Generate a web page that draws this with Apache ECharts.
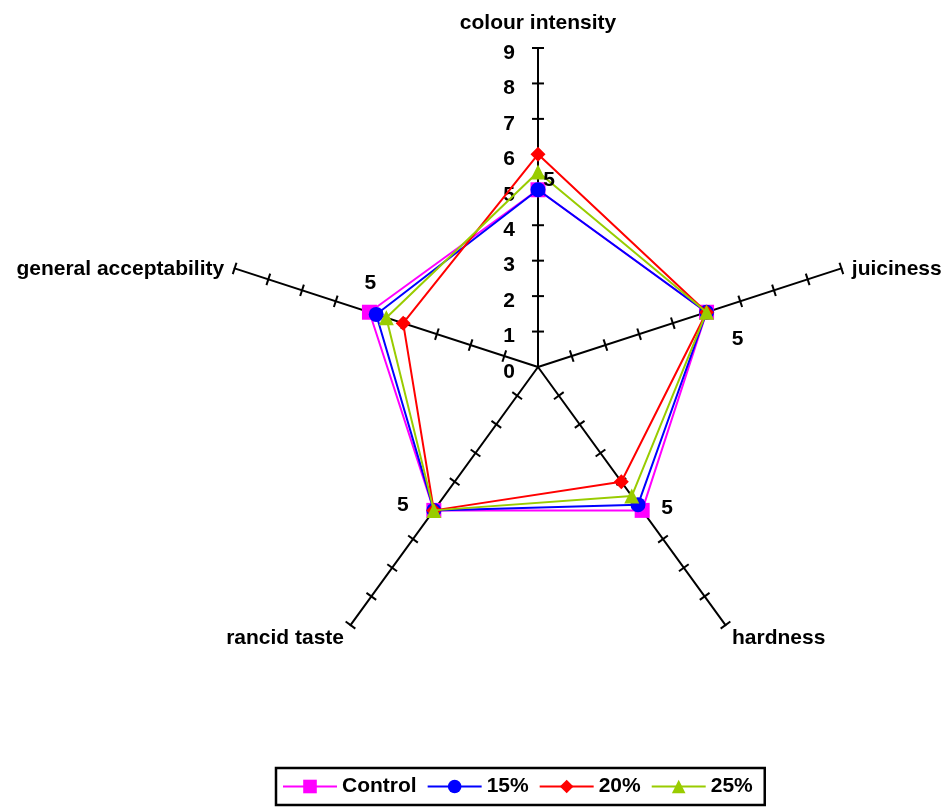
<!DOCTYPE html>
<html>
<head>
<meta charset="utf-8">
<script src="https://cdn.jsdelivr.net/npm/echarts@6/dist/echarts.min.js"></script>
<style>
  html, body { margin: 0; padding: 0; background: #fff; }
  #chart { width: 949px; height: 808px; }
</style>
</head>
<body>
<div id="chart"></div>
<script>
// Sensory attributes (clockwise from the top) and panel scores
const attributes = ['colour intensity', 'juiciness', 'hardness', 'rancid taste', 'general acceptability'];
const control = [5, 5, 5, 5, 5];
const pct15 = [5, 5, 4.8, 5, 4.8];
const pct20 = [6, 5, 4, 5, 4];
const pct25 = [5.5, 5, 4.5, 5, 4.5];
const seriesNames = ['Control', '15%', '20%', '25%'];
const tickValues = [1, 2, 3, 4, 5, 6, 7, 8, 9];
const scaleMax = 9;

const FONT = '"Liberation Sans", Arial, sans-serif';
const CENTER = [538, 367];
const RADIUS = 319;

// ECharts lays radar indicators out counter-clockwise; reorder to get a clockwise reading
const order = [0, 4, 3, 2, 1];
const reorder = arr => order.map(i => arr[i]);

// Only the top spoke carries the scale numbers; side names sit a little lower
const indicators = reorder(attributes).map((name, i) => {
  const ind = { name: name, min: 0, max: scaleMax };
  if (i === 0) {
    ind.nameGap = 14;
  } else {
    ind.axisLabel = { show: false };
    ind.nameTextStyle = { verticalAlign: 'top', lineHeight: 8 };
  }
  return ind;
});

const colors = ['#ff00ff', '#0000ff', '#ff0000', '#99cc00'];
const symbols = ['rect', 'circle', 'diamond', 'triangle'];
const values = [control, pct15, pct20, pct25];

const series = [];

// Line series used only for the legend entries (line with marker)
seriesNames.forEach((name, k) => {
  series.push({
    type: 'line', name: name, data: [], xAxisIndex: 0, yAxisIndex: 0,
    symbol: symbols[k], symbolSize: 14,
    itemStyle: { color: colors[k] },
    lineStyle: { color: colors[k], width: 2 }
  });
});

// Cross ticks on every spoke, placed through the polar axes
const spokeStep = 360 / attributes.length;
const tickData = [];
attributes.forEach((_, i) => {
  tickValues.forEach(v => tickData.push([v, i * spokeStep]));
});
series.push({
  type: 'custom',
  coordinateSystem: 'polar',
  silent: true,
  z: 2,
  encode: { radius: 0, angle: 1 },
  data: tickData,
  renderItem: (params, api) => {
    const p = api.coord([api.value(0), api.value(1)]);
    const c = api.coord([0, api.value(1)]);
    const dx = p[0] - c[0], dy = p[1] - c[1];
    const len = Math.sqrt(dx * dx + dy * dy) || 1;
    const nx = -dy / len, ny = dx / len;
    const h = 6;
    return {
      type: 'line',
      shape: { x1: p[0] - nx * h, y1: p[1] - ny * h, x2: p[0] + nx * h, y2: p[1] + ny * h },
      style: { stroke: '#000', lineWidth: 2 }
    };
  }
});

// Score polygons
seriesNames.forEach((name, k) => {
  series.push({
    type: 'radar', name: name, radarIndex: 0, z: 3 + k,
    symbol: symbols[k],
    symbolSize: 15,
    itemStyle: { color: colors[k] },
    lineStyle: { color: colors[k], width: 2 },
    data: [{ value: reorder(values[k]), name: name }]
  });
});

// Value labels for the Control scores, one per attribute
const labelOffsets = {
  'colour intensity': [11, -10],
  'juiciness': [31, 27],
  'hardness': [25, -2],
  'rancid taste': [-31, -5],
  'general acceptability': [1, -29]
};
const ctrlOrdered = reorder(control);
reorder(attributes).forEach((attr, dim) => {
  series.push({
    type: 'radar', radarIndex: 0, z: 10,
    symbol: 'circle', symbolSize: 1,
    silent: true,
    itemStyle: { color: 'rgba(0,0,0,0)' },
    lineStyle: { opacity: 0 },
    label: {
      show: true,
      position: 'inside',
      offset: labelOffsets[attr],
      color: '#000', fontFamily: FONT, fontWeight: 'bold', fontSize: 21,
      formatter: p => (p.dimensionIndex === dim ? String(ctrlOrdered[dim]) : '')
    },
    data: [{ value: ctrlOrdered }]
  });
});

const chart = echarts.init(document.getElementById('chart'), null, { renderer: 'canvas' });
chart.setOption({
  backgroundColor: '#fff',
  animation: false,
  grid: { show: false, left: 0, top: 0, width: 1, height: 1 },
  xAxis: { show: false, type: 'value' },
  yAxis: { show: false, type: 'value' },
  polar: { center: CENTER, radius: RADIUS },
  angleAxis: { type: 'value', min: 0, max: 360, startAngle: 90, clockwise: true, show: false },
  radiusAxis: { type: 'value', min: 0, max: scaleMax, show: false },
  radar: {
    center: CENTER,
    radius: RADIUS,
    startAngle: 90,
    splitNumber: 9,
    shape: 'polygon',
    indicator: indicators,
    splitLine: { show: false },
    splitArea: { show: false },
    axisLine: { show: true, lineStyle: { color: '#000', width: 2 } },
    axisTick: { show: false },
    axisName: {
      color: '#000', fontFamily: FONT, fontWeight: 'bold', fontSize: 21
    },
    nameGap: 11,
    axisLabel: {
      show: true, color: '#000', fontFamily: FONT, fontWeight: 'bold', fontSize: 21,
      margin: 23, verticalAlign: 'top', lineHeight: 10
    }
  },
  legend: {
    data: seriesNames,
    left: 276, top: 768,
    orient: 'horizontal',
    itemWidth: 54, itemHeight: 17, itemGap: 10,
    padding: [8, 12, 8, 6],
    borderColor: '#000', borderWidth: 2.5,
    textStyle: { color: '#000', fontFamily: FONT, fontWeight: 'bold', fontSize: 21 }
  },
  series: series
});
</script>
</body>
</html>
